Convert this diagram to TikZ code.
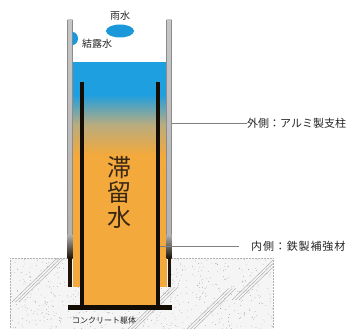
\documentclass[tikz,border=0pt]{standalone}
\usepackage{fontspec}
\newfontfamily\jp{Noto Sans CJK JP}
\begin{document}
\begin{tikzpicture}[x=1pt,y=-1pt,
  lbl/.style={font=\jp\fontsize{11}{13}\selectfont, text=black!85, inner sep=0pt},
  leader/.style={draw=black!50, line width=0.9pt},
  bar/.style={fill=black!90!brown, draw=none},
  dropcol/.style={fill=drop, draw=none}]
\definecolor{water}{HTML}{1E9FE0}
\definecolor{drop}{HTML}{1A98DA}
\definecolor{rust}{HTML}{F3A93C}
\definecolor{mid}{HTML}{B9AC7E}
\useasboundingbox (0,0) rectangle (356,329);
\fill[white] (0,0) rectangle (356,329);

% ground (concrete) with stipple and hatching
\fill[black!4] (10,258) rectangle (273,329);
\draw[black!30, densely dotted, line width=0.5pt] (10,258) -- (273,258);
\draw[black!30, densely dotted, line width=0.5pt] (10,258) -- (10,329);
\draw[black!30, densely dotted, line width=0.5pt] (273,258) -- (273,329);
\pgfmathsetseed{7}
\foreach \i in {1,...,700}{
  \pgfmathsetmacro{\px}{10+263*rnd}
  \pgfmathsetmacro{\py}{259+70*rnd}
  \fill[black!45] (\px,\py) circle (0.35);
}
\begin{scope}
  \clip (10,258) rectangle (273,329);
  \foreach \bx/\by/\len in {12/302/62, 128/329/60, 187/329/58, 232/300/60}{
    \foreach \o in {0,3.5,7}{
      \draw[black!35, line width=0.4pt] (\bx+\o,\by) -- ++(\len*0.72,-\len*0.70);
    }
  }
\end{scope}

% retained water inside the post: blue at the top, rust-coloured below
\fill[water] (73,62) rectangle (167,95);
\shade[top color=water, bottom color=rust, middle color=mid] (73,94.5) rectangle (167,155);
\fill[rust] (73,154.5) rectangle (167,287);
\fill[rust] (81,286.5) rectangle (158,306);

% outer aluminium post walls: grey above ground, dark below
\shade[top color=black!22, bottom color=black!30] (67.5,20) rectangle (72.5,235);
\shade[top color=black!30, bottom color=black!85!brown] (67.5,234.5) rectangle (72.5,258);
\fill[black!85!brown] (68,257.5) rectangle (72,287);
\draw[black!45, line width=0.5pt] (67.5,20) -- (67.5,235) (72.5,20) -- (72.5,235);
\shade[top color=black!22, bottom color=black!30] (166.5,20) rectangle (171.5,235);
\shade[top color=black!30, bottom color=black!85!brown] (166.5,234.5) rectangle (171.5,258);
\fill[black!85!brown] (167.5,257.5) rectangle (171,287);
\draw[black!45, line width=0.5pt] (166.5,20) -- (166.5,235) (171.5,20) -- (171.5,235);

% inner steel reinforcement and base plate
\fill[bar] (79.5,82) rectangle (83.5,306);
\fill[bar] (155.5,82) rectangle (159.5,306);
\fill[bar] (68,305) rectangle (172,310);

% rain and condensation droplets
\fill[dropcol] (120,31) ellipse (14 and 6.5);
\begin{scope}
  \clip (72.5,20) rectangle (95,60);
  \fill[dropcol] (72.5,38.5) ellipse (5.5 and 6.5);
\end{scope}
\node[lbl, font=\jp\fontsize{10}{12}\selectfont] (rain) at (120,16) {雨水};
\node[lbl, font=\jp\fontsize{10}{12}\selectfont] (dew) at (97,44) {結露水};

% main label
\node[font=\jp\fontsize{24}{26}\selectfont, text=black!70!brown, align=center, inner sep=0pt] (stay) at (119,192) {滞\\[-1pt]留\\[-1pt]水};

% leaders and callouts
\coordinate (outerR) at (171.5,123);
\coordinate (innerR) at (159.5,246);
\node[lbl, anchor=west] (outerLbl) at (247,123) {外側：アルミ製支柱};
\node[lbl, anchor=west, font=\jp\addfontfeature{LetterSpace=8}\fontsize{11}{13}\selectfont] (innerLbl) at (251,246) {内側：鉄製補強材};
\draw[leader] (outerR) -- (outerLbl.west);
\draw[leader] (innerR) -- ([xshift=-12pt]innerLbl.west);
\node[font=\jp\fontsize{8}{10}\selectfont, text=black!85, inner sep=0pt] (base) at (104,320) {コンクリート躯体};
\end{tikzpicture}
\end{document}
